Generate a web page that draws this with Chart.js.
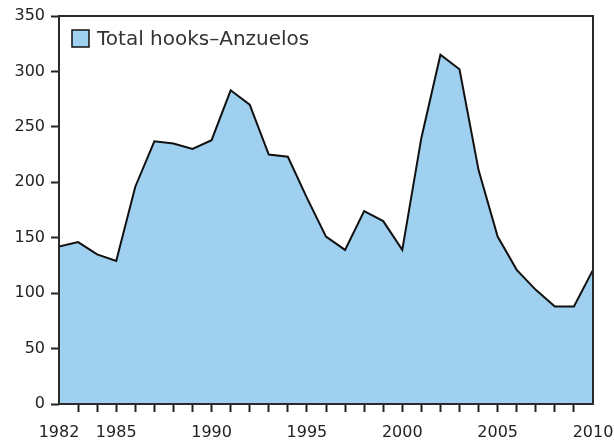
<!DOCTYPE html>
<html>
<head>
<meta charset="utf-8">
<script src="https://cdn.jsdelivr.net/npm/chart.js@4.4.1/dist/chart.umd.min.js"></script>
<style>
  html, body { margin: 0; padding: 0; background: #fff; }
  #wrap { width: 614px; height: 441px; }
</style>
</head>
<body>
<div id="wrap"><canvas id="hooks-chart" width="614" height="441"></canvas></div>
<script>
// yearly totals
var years = [1982, 1983, 1984, 1985, 1986, 1987, 1988, 1989, 1990, 1991,
             1992, 1993, 1994, 1995, 1996, 1997, 1998, 1999, 2000, 2001,
             2002, 2003, 2004, 2005, 2006, 2007, 2008, 2009, 2010];
var hooks = [142, 146, 135, 129, 196, 237, 235, 230, 238, 283,
             270, 225, 223, 186, 151, 139, 174, 165, 139, 240,
             315, 302, 211, 151, 121, 103, 88, 88, 121];
var labelYears = [1982, 1985, 1990, 1995, 2000, 2005, 2010];
var seriesName = 'Total hooks\u2013Anzuelos';

// full frame round the plot
var frame = {
    id: 'frame',
    afterDatasetsDraw: function(chart) {
        var a = chart.chartArea, ctx = chart.ctx;
        ctx.save();
        ctx.strokeStyle = '#2a2a2a';
        ctx.lineWidth = 2;
        ctx.strokeRect(a.left, a.top, a.right - a.left, a.bottom - a.top);
        ctx.restore();
    }
};

// single legend entry tucked into the top-left corner of the plot
var cornerLegend = {
    id: 'cornerLegend',
    afterDraw: function(chart) {
        var a = chart.chartArea, ctx = chart.ctx;
        var ds = chart.data.datasets[0];
        var x = a.left + 13, y = a.top + 14, size = 17;
        ctx.save();
        ctx.fillStyle = ds.backgroundColor;
        ctx.fillRect(x, y, size, size);
        ctx.strokeStyle = '#111';
        ctx.lineWidth = 1.5;
        ctx.strokeRect(x, y, size, size);
        ctx.fillStyle = '#333';
        ctx.font = '20px "DejaVu Sans"';
        ctx.textBaseline = 'middle';
        ctx.fillText(ds.label, x + size + 8, y + size / 2 + 1);
        ctx.restore();
    }
};

function prepareHooksChart()
{
    var canvas = document.getElementById('hooks-chart');
    var points = years.map(function(y, i) { return {x: y, y: hooks[i]}; });

    return new Chart(canvas, {
        type: 'line',
        data: {
            datasets: [{
                label: seriesName,
                data: points,
                fill: 'origin',
                backgroundColor: 'rgb(160, 208, 240)',
                borderColor: '#111',
                borderWidth: 2,
                pointRadius: 0,
                tension: 0
            }]
        },
        plugins: [frame, cornerLegend],
        options: {
            responsive: false,
            animation: false,
            layout: {padding: {top: 16, right: 21, left: 0, bottom: 0}},
            plugins: {
                tooltip: {enabled: false},
                legend: {display: false}
            },
            scales: {
                x: {
                    type: 'linear',
                    min: 1982,
                    max: 2010,
                    afterBuildTicks: function(scale) {
                        scale.ticks = years.map(function(y) { return {value: y}; });
                    },
                    afterFit: function(scale) {
                        scale.height = 37;
                        scale.paddingLeft = 0;
                        scale.paddingRight = 0;
                    },
                    ticks: {
                        autoSkip: false,
                        maxRotation: 0,
                        padding: 11,
                        color: '#222',
                        font: {family: 'DejaVu Sans', size: 16},
                        callback: function(v) {
                            return labelYears.indexOf(v) >= 0 ? String(v) : '';
                        }
                    },
                    grid: {
                        drawOnChartArea: false,
                        tickLength: 8,
                        tickWidth: 2,
                        tickColor: function(ctx) {
                            var v = ctx.tick && ctx.tick.value;
                            return (v === 1982 || v === 2010) ? 'rgba(0,0,0,0)' : '#222';
                        }
                    },
                    border: {display: false}
                },
                y: {
                    min: 0,
                    max: 350,
                    afterFit: function(scale) {
                        scale.width = 59;
                        scale.paddingTop = 0;
                        scale.paddingBottom = 0;
                    },
                    ticks: {
                        stepSize: 50,
                        padding: 6,
                        color: '#222',
                        font: {family: 'DejaVu Sans', size: 16}
                    },
                    grid: {
                        drawOnChartArea: false,
                        tickLength: 8,
                        tickWidth: 2,
                        tickColor: '#222'
                    },
                    border: {display: false}
                }
            }
        }
    });
}

prepareHooksChart();
</script>
</body>
</html>
